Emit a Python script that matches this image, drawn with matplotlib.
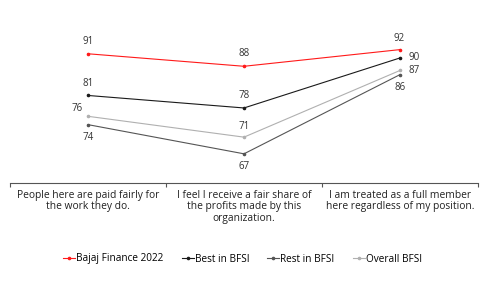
import matplotlib.pyplot as plt

categories = ["People here are paid fairly for\nthe work they do.",
              "I feel I receive a fair share of\nthe profits made by this\norganization.",
              "I am treated as a full member\nhere regardless of my position."]
bajaj = [91, 88, 92]
best = [81, 78, 90]
rest = [74, 67, 86]
overall = [76, 71, 87]

series_names = ["Bajaj Finance 2022", "Best in BFSI", "Rest in BFSI", "Overall BFSI"]
colors = ["#ff1a1a", "#1a1a1a", "#555555", "#b0b0b0"]

# label offsets (points) for each series/point
offsets = {
    0: [(0, 5), (0, 5), (-1, 4)],
    1: [(0, 5), (0, 5), (10, 0)],
    2: [(0, -5), (0, -5), (0, -5)],
    3: [(-8, 2), (0, 4), (10, 0)],
}

plt.rcParams['font.family'] = ['Open Sans', 'DejaVu Sans']

fig = plt.figure(figsize=(4.9, 2.88), dpi=100)
ax = fig.add_axes([10 / 490, 105 / 288, 468 / 490, 183 / 288])

x = range(len(categories))
for i, vals in enumerate([bajaj, best, rest, overall]):
    ax.plot(x, vals, color=colors[i], lw=0.8, marker='o', ms=1.6,
            label=series_names[i])
    for j, v in enumerate(vals):
        dx, dy = offsets[i][j]
        va = 'bottom' if dy > 0 else ('top' if dy < 0 else 'center')
        ax.annotate(str(v), (j, v), xytext=(dx, dy), textcoords='offset points',
                    ha='center', va=va, fontsize=7, color='#333333')

ax.set_xlim(-0.5, 2.5)
ax.set_ylim(60, 103.9)
ax.set_yticks([])
for s in ['top', 'right', 'left']:
    ax.spines[s].set_visible(False)
ax.spines['bottom'].set_color('#555555')
ax.spines['bottom'].set_linewidth(0.8)

ax.set_xticks([0, 1, 2])
ax.set_xticklabels(categories, fontsize=7.4, color='#222222', linespacing=1.05)
ax.tick_params(axis='x', which='major', length=0, pad=5)
ax.set_xticks([-0.5, 0.5, 1.5, 2.5], minor=True)
ax.tick_params(axis='x', which='minor', length=3, color='#555555', width=0.8)

fig.legend(loc='center', bbox_to_anchor=(0.495, (288 - 259) / 288),
           ncol=4, frameon=False, fontsize=7.2, handlelength=1.2, handletextpad=0.1,
           columnspacing=1.8, bbox_transform=fig.transFigure)

fig.savefig("out.png", dpi=100)
